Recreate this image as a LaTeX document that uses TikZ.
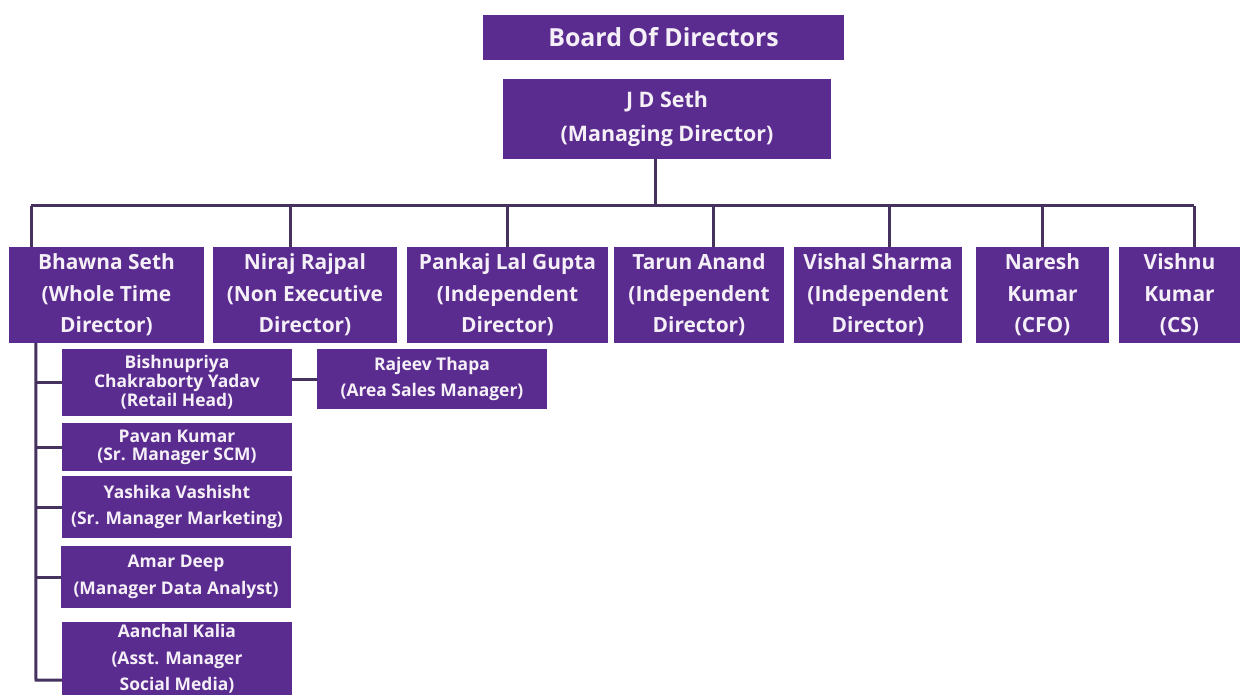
\documentclass[tikz,border=0pt]{standalone}
\usepackage{fontspec}
\setmainfont{Open Sans}
\definecolor{boxpurple}{HTML}{5B2C8F}
\definecolor{txt}{HTML}{F5F0F8}
\definecolor{linec}{HTML}{45325F}
\begin{document}
\begin{tikzpicture}[x=1bp,y=-1bp,
  pbox/.style={fill=boxpurple, draw=none, inner sep=0pt, text=txt, align=center},
  toptxt/.style={font=\bfseries\fontsize{25}{30}\selectfont},
  mdtxt/.style={font=\bfseries\fontsize{21.5}{34}\selectfont},
  dirtxt/.style={font=\bfseries\fontsize{21}{31.5}\selectfont},
  subtxt/.style={font=\bfseries\fontsize{17.5}{26.5}\selectfont},
  subtight/.style={font=\bfseries\fontsize{17.5}{18}\selectfont},
  conn/.style={draw=linec, line width=3bp}]
\useasboundingbox (0,0) rectangle (1242,695);
\fill[white] (0,0) rectangle (1242,695);
\clip (0,0) rectangle (1242,695);

% top
\node[pbox, toptxt, minimum width=361bp, minimum height=45bp] (board) at (663.5,37.5) {Board Of Directors};
\node[pbox, mdtxt, minimum width=328bp, minimum height=80bp] (jd) at (667,119) {J D Seth\\(Managing Director)};

% directors
\node[pbox, dirtxt, minimum width=195bp, minimum height=96bp] (bhawna) at (106.5,295) {Bhawna Seth\\(Whole Time\\Director)};
\node[pbox, dirtxt, minimum width=184bp, minimum height=96bp] (niraj) at (305,295) {Niraj Rajpal\\(Non Executive\\Director)};
\node[pbox, dirtxt, minimum width=201bp, minimum height=96bp] (pankaj) at (507.5,295) {Pankaj Lal Gupta\\(Independent\\Director)};
\node[pbox, dirtxt, minimum width=170bp, minimum height=96bp] (tarun) at (699,295) {Tarun Anand\\(Independent\\Director)};
\node[pbox, dirtxt, minimum width=168bp, minimum height=96bp] (vishal) at (878,295) {Vishal Sharma\\(Independent\\Director)};
\node[pbox, dirtxt, minimum width=133bp, minimum height=96bp] (naresh) at (1042.5,295) {Naresh\\Kumar\\(CFO)};
\node[pbox, dirtxt, minimum width=121bp, minimum height=96bp] (vishnu) at (1179.5,295) {Vishnu\\Kumar\\(CS)};

% sub boxes
\node[pbox, font=\bfseries\fontsize{17.5}{19}\selectfont, minimum width=230bp, minimum height=67bp] (bish) at (177,382.5) {Bishnupriya\\Chakraborty Yadav\\(Retail Head)};
\node[pbox, subtxt, minimum width=230bp, minimum height=60bp] (rajeev) at (432,379) {Rajeev Thapa\\(Area Sales Manager)};
\node[pbox, subtight, minimum width=230bp, minimum height=48bp] (pavan) at (177,447) {Pavan Kumar\\(Sr. Manager SCM)};
\node[pbox, subtxt, minimum width=230bp, minimum height=62bp] (yashika) at (177,507) {Yashika Vashisht\\(Sr. Manager Marketing)};
\node[pbox, subtxt, minimum width=230bp, minimum height=62bp] (amar) at (176,577) {Amar Deep\\(Manager Data Analyst)};
\node[pbox, minimum width=230bp, minimum height=80bp] (aanchal) at (177,662) {};
\node[text=txt, align=center, subtxt, inner sep=0pt] (aanchaltxt) at (177,659) {Aanchal Kalia\\(Asst. Manager\\Social Media)};

% main tree
\coordinate (busL) at (31,206);
\coordinate (busR) at (1194,206);
\draw[conn] (busL) -- (busR);
\draw[conn] ([xshift=-12bp]jd.south) -- ([xshift=-12bp]jd.south |- busL);
\draw[conn] (busL) -- (busL |- bhawna.north);
\draw[conn] ([xshift=-15bp]niraj.north) -- ([xshift=-15bp]niraj.north |- busL);
\draw[conn] (pankaj.north) -- (pankaj.north |- busL);
\draw[conn] ([xshift=14bp]tarun.north) -- ([xshift=14bp]tarun.north |- busL);
\draw[conn] ([xshift=11bp]vishal.north) -- ([xshift=11bp]vishal.north |- busL);
\draw[conn] (naresh.north) -- (naresh.north |- busL);
\draw[conn] (busR) -- (busR |- vishnu.north);

% Bhawna subtree
\coordinate (spine) at ([xshift=27bp]bhawna.south west);
\coordinate (spineEnd) at (36,680);
\draw[conn] (spine) -- (spineEnd) -- (spineEnd -| aanchal.west);
\draw[conn] (bish.west -| spine) -- (bish.west);
\draw[conn] (pavan.west -| spine) -- (pavan.west);
\draw[conn] (yashika.west -| spine) -- (yashika.west);
\draw[conn] (amar.west -| spine) -- (amar.west);
\draw[conn] (bish.east |- rajeev.west) -- (rajeev.west);
\end{tikzpicture}
\end{document}
